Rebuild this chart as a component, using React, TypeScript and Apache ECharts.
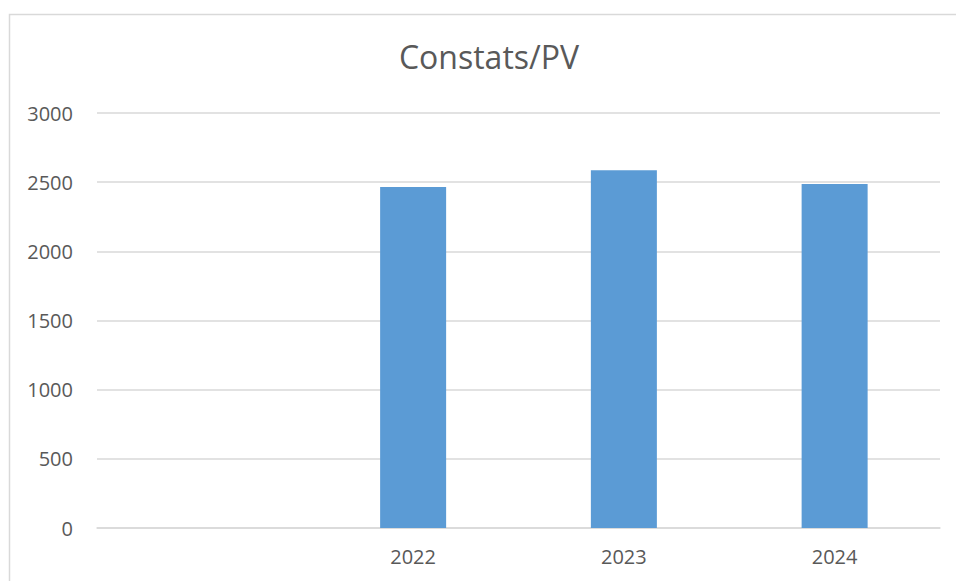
import React, { useEffect, useRef } from "react";
import * as echarts from "echarts";

const categories: string[] = ["", "2022", "2023", "2024"];
const values: (number | null)[] = [null, 2465, 2586, 2487];
const yTicks = { min: 0, max: 3000, interval: 500 };
const chartTitle = "Constats/PV";

export default function App() {
  const ref = useRef<HTMLDivElement>(null);
  useEffect(() => {
    if (!ref.current) return;
    const chart = echarts.init(ref.current, undefined, { renderer: "svg" });
    chart.setOption({
      animation: false,
      backgroundColor: "#ffffff",
      title: {
        text: chartTitle,
        left: 484,
        top: 35,
        textAlign: "center",
        textStyle: {
          fontFamily: "Open Sans",
          fontSize: 32,
          fontWeight: "normal",
          color: "#595959",
        },
      },
      graphic: [
        {
          type: "polyline",
          shape: { points: [[9.5, 600], [9.5, 14.5], [1000, 14.5]] },
          style: { stroke: "#d9d9d9", lineWidth: 1.5, fill: "none" },
          silent: true,
        },
      ],
      grid: { left: 97, right: 16, top: 113, bottom: 53, containLabel: false },
      xAxis: {
        type: "category",
        data: categories,
        axisTick: { show: false },
        axisLine: { show: true, lineStyle: { color: "#d9d9d9", width: 1.5 } },
        axisLabel: {
          fontFamily: "Open Sans",
          fontSize: 20,
          color: "#595959",
          margin: 18,
        },
      },
      yAxis: {
        type: "value",
        min: yTicks.min,
        max: yTicks.max,
        interval: yTicks.interval,
        axisLine: { show: false },
        axisTick: { show: false },
        splitLine: { lineStyle: { color: "#d9d9d9", width: 1.5 } },
        axisLabel: {
          fontFamily: "Open Sans",
          fontSize: 20,
          color: "#595959",
          margin: 24,
          formatter: (v: number) => String(v),
        },
      },
      series: [
        {
          type: "bar",
          data: values,
          barWidth: 66,
          itemStyle: { color: "#5b9bd5" },
        },
      ],
    });
    return () => chart.dispose();
  }, []);
  return (
    <div
      ref={ref}
      style={{ position: "fixed", left: 0, top: 0, width: 956, height: 581 }}
    />
  );
}
